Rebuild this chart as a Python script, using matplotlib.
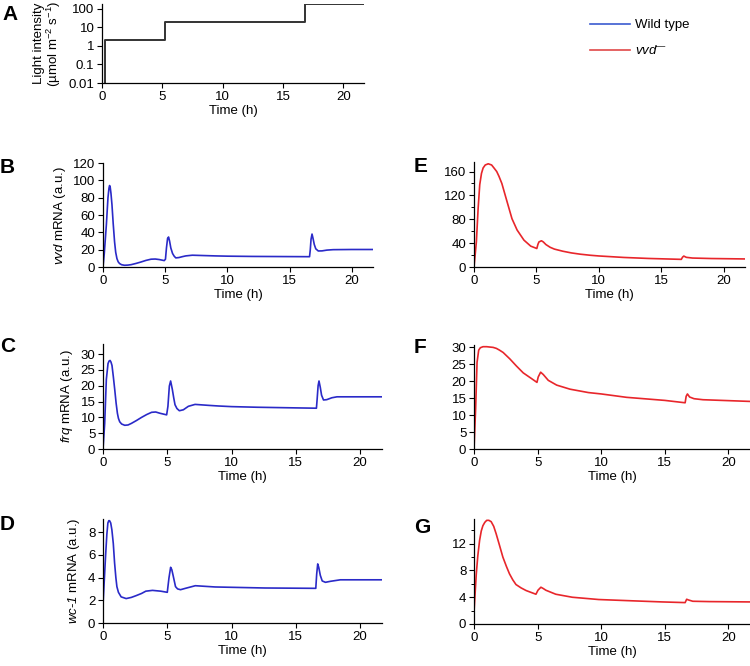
import matplotlib
matplotlib.use("Agg")
import matplotlib.pyplot as plt

plt.rcParams['font.family'] = ['Liberation Sans', 'DejaVu Sans']
plt.rcParams['mathtext.fontset'] = 'custom'
plt.rcParams['mathtext.rm'] = 'Liberation Sans'
plt.rcParams['mathtext.it'] = 'Liberation Sans:italic'
plt.rcParams['mathtext.sf'] = 'Liberation Sans:italic'
plt.rcParams['axes.linewidth'] = 0.9

BLUE = '#2a2ac8'
RED = '#e8262b'

# light protocol (A)
t_light = [0, 0.28, 5.2, 16.85, 21.7]
light = [0.001, 2, 20, 170, 170]

# wild type (B, C, D)
t_b = [0, 0.1, 0.27, 0.4, 0.48, 0.53, 0.58, 0.64, 0.72, 0.82, 0.93, 1.02, 1.12, 1.22, 1.33,
       1.5, 1.73, 2.0, 2.26, 2.65, 3.06, 3.45, 3.86, 4.2, 4.52, 4.92, 5.02, 5.1, 5.19, 5.27,
       5.35, 5.45, 5.59, 5.72, 5.85, 6.1, 6.4, 6.65, 7.18, 8.1, 9.04, 10, 12, 15, 16.6, 16.66,
       16.72, 16.8, 16.88, 16.98, 17.1, 17.3, 17.6, 18.0, 18.5, 20, 21.7]
vvd_wt = [0, 15, 48.6, 80, 91, 94, 92, 85, 72, 50, 29, 17, 9.7, 6, 4,
          2.6, 2, 2.2, 2.7, 4.1, 5.8, 7.6, 9, 9.2, 8.6, 7.4, 9, 22, 33, 34.6,
          30, 22, 15.6, 12.5, 10.5, 10.9, 12, 12.8, 13.6, 13.2, 12.8, 12.5, 12.2, 12.0, 11.9, 20,
          32, 38, 33, 26, 21, 18.5, 18.6, 19.5, 20, 20.2, 20.2]

t_c = [0, 0.13, 0.26, 0.39, 0.47, 0.55, 0.62, 0.7, 0.8, 0.91, 1.02, 1.12, 1.2, 1.3, 1.45,
       1.69, 1.95, 2.21, 2.6, 3.0, 3.4, 3.78, 4.1, 4.43, 4.95, 5.05, 5.16, 5.26, 5.39, 5.5,
       5.6, 5.75, 5.94, 6.25, 6.64, 7.16, 8.2, 8.98, 10, 12, 15, 16.6, 16.66, 16.73, 16.8,
       16.9, 17.0, 17.15, 17.4, 17.8, 18.2, 20, 21.7]
frq_wt = [0, 8, 22, 27, 27.8, 28, 27.5, 26.4, 23, 18.9, 14.5, 11.3, 9.7, 8.6, 7.9,
          7.5, 7.6, 8.1, 9.0, 10, 10.9, 11.6, 11.7, 11.3, 10.8, 13.5, 19.9, 21.5, 18.9, 16.2,
          14, 12.8, 12.1, 12.4, 13.5, 14.1, 13.8, 13.6, 13.4, 13.2, 13.0, 12.9, 16, 20, 21.5,
          19.5, 17, 15.5, 15.6, 16.2, 16.5, 16.5, 16.5]

t_d = [0, 0.2, 0.3, 0.38, 0.45, 0.51, 0.6, 0.69, 0.8, 0.9, 1.0, 1.08, 1.2, 1.41, 1.8, 2.2,
       2.56, 3.0, 3.33, 3.85, 4.49, 5.0, 5.13, 5.26, 5.35, 5.44, 5.64, 5.8, 6.03, 6.41, 7.18,
       8.72, 10, 12.6, 16.55, 16.62, 16.7, 16.78, 16.9, 17.05, 17.3, 17.7, 18.46, 21.7]
wc1_wt = [1.6, 5.9, 7.8, 8.8, 9.0, 9.0, 8.8, 8.2, 7.0, 5.3, 4.0, 3.2, 2.7, 2.3, 2.15, 2.25,
          2.4, 2.6, 2.8, 2.87, 2.8, 2.7, 3.96, 4.9, 4.7, 4.25, 3.2, 3.0, 2.93, 3.05, 3.28,
          3.17, 3.14, 3.08, 3.05, 4.3, 5.2, 4.9, 4.2, 3.7, 3.58, 3.67, 3.8, 3.8]

# vvd mutant (E, F, G)
t_e = [0, 0.19, 0.33, 0.46, 0.6, 0.73, 0.9, 1.14, 1.41, 1.6, 1.82, 2.0, 2.23, 2.64, 3.04,
       3.45, 4.0, 4.54, 5.03, 5.12, 5.2, 5.4, 5.55, 5.76, 6.1, 6.44, 7.1, 7.8, 8.5, 9.3, 10,
       12, 14, 16.6, 16.7, 16.8, 17.0, 17.5, 19, 21.7]
vvd_mut = [0, 42, 98, 138, 157, 166, 171, 173, 171, 166, 160, 152, 140, 110, 81,
           62, 45, 35, 31, 38, 42, 44, 42, 37.6, 33, 30, 26.5, 23.6, 21.5, 19.7, 18.5,
           16, 14.3, 12.8, 16.5, 18.3, 16.2, 15, 14.2, 13.5]

t_f = [0, 0.13, 0.24, 0.37, 0.5, 0.71, 1.0, 1.24, 1.5, 1.76, 2.0, 2.29, 2.82, 3.34, 3.87,
       4.53, 4.95, 5.05, 5.24, 5.45, 5.84, 6.5, 7.55, 9.0, 10, 12, 15, 16.6, 16.68, 16.78,
       16.95, 17.3, 18, 21.7]
frq_mut = [0, 12, 25.5, 29.1, 29.8, 30.1, 30.1, 30, 29.9, 29.6, 29.1, 28.4, 26.5, 24.4, 22.4,
           20.7, 19.6, 21.2, 22.6, 21.9, 20.2, 18.8, 17.6, 16.6, 16.2, 15.2, 14.3, 13.6, 15.5,
           16.2, 15.3, 14.8, 14.5, 14.0]

t_g = [0, 0.18, 0.3, 0.44, 0.57, 0.7, 0.85, 1.0, 1.17, 1.35, 1.55, 1.74, 2.0, 2.27, 2.55,
       2.79, 3.05, 3.3, 3.7, 4.1, 4.87, 5.03, 5.26, 5.45, 5.65, 6.43, 7.73, 9.8, 12.4, 14.8,
       16.6, 16.72, 16.85, 17.2, 18.5, 21.7]
wc1_mut = [1.8, 7.5, 10.2, 12.5, 13.9, 14.7, 15.2, 15.5, 15.5, 15.3, 14.6, 13.5, 11.8, 10,
           8.6, 7.5, 6.6, 5.9, 5.4, 5.0, 4.45, 5.05, 5.5, 5.3, 5.05, 4.45, 4.0, 3.66, 3.47,
           3.3, 3.2, 3.7, 3.6, 3.4, 3.35, 3.3]

W, H = 750, 666
fig = plt.figure(figsize=(W / 100, H / 100), dpi=100)


def px_axes(x0, x1, y0, y1):
    # pixel box (left, right, top, bottom) -> figure axes
    return fig.add_axes([x0 / W, 1 - y1 / H, (x1 - x0) / W, (y1 - y0) / H])


def style(ax, xmax=21.7):
    for s in ('top', 'right'):
        ax.spines[s].set_visible(False)
    ax.tick_params(direction='out', length=3.5, width=0.8, labelsize=9.5, pad=2)
    ax.tick_params(which='minor', direction='out', length=2, width=0.7)
    ax.set_xlim(0, xmax)
    ax.set_xticks([0, 5, 10, 15, 20])
    ax.set_xlabel('Time (h)', fontsize=9.5, labelpad=2)


# A
axA = px_axes(102, 364, 4, 83)
axA.step(t_light, light, where='post', color='#333333', lw=1.4)
axA.set_yscale('log')
axA.set_ylim(0.01, 180)
axA.set_yticks([0.01, 0.1, 1, 10, 100])
axA.set_yticklabels(['0.01', '0.1', '1', '10', '100'])
axA.minorticks_off()
style(axA)
axA.set_ylabel('Light intensity\n(µmol m$^{-2}$ s$^{-1}$)', fontsize=9.5, linespacing=1.0)

# B
axB = px_axes(103, 373, 163, 267)
axB.plot(t_b, vvd_wt, color=BLUE, lw=1.2)
axB.set_ylim(0, 120)
axB.set_yticks(range(0, 121, 20))
style(axB)
axB.set_ylabel(r'$\mathsf{vvd}$ mRNA (a.u.)', fontsize=9.5)

# C
axC = px_axes(103, 382, 344, 449)
axC.plot(t_c, frq_wt, color=BLUE, lw=1.2)
axC.set_ylim(0, 33.2)
axC.set_yticks(range(0, 31, 5))
style(axC)
axC.set_ylabel(r'$\mathsf{frq}$ mRNA (a.u.)', fontsize=9.5)

# D
axD = px_axes(103, 382, 519, 623)
axD.plot(t_d, wc1_wt, color=BLUE, lw=1.2)
axD.set_ylim(0, 9.15)
axD.set_yticks(range(0, 9, 2))
style(axD)
axD.set_ylabel(r'$\mathsf{wc}$$\mathsf{\text{-}1}$ mRNA (a.u.)', fontsize=9.5)

# E
axE = px_axes(474, 745, 162, 267)
axE.plot(t_e, vvd_mut, color=RED, lw=1.2)
axE.set_ylim(0, 176)
axE.set_yticks(range(0, 161, 40))
axE.set_yticks(range(20, 175, 40), minor=True)
style(axE)

# F
axF = px_axes(474, 750, 345, 449)
axF.plot(t_f, frq_mut, color=RED, lw=1.2)
axF.set_ylim(0, 30.6)
axF.set_yticks(range(0, 31, 5))
style(axF)

# G
axG = px_axes(474, 750, 519, 624)
axG.plot(t_g, wc1_mut, color=RED, lw=1.2)
axG.set_ylim(0, 15.7)
axG.set_yticks(range(0, 13, 4))
axG.set_yticks(range(2, 16, 4), minor=True)
style(axG)

# panel letters
letters = [('A', 2, 5), ('B', 0, 158), ('C', 0, 337), ('D', 0, 515),
           ('E', 414, 157), ('F', 414, 338), ('G', 414, 518)]
for s, x, y in letters:
    fig.text(x / W, 1 - y / H, s, fontsize=15, fontweight='bold', ha='left', va='top')

# legend
hw, = axB.plot([], [], color='#3b5bd0', lw=1.2, label='Wild type')
hm, = axE.plot([], [], color='#e04848', lw=1.2, label=r'$\mathsf{vvd}^{\mathrm{—}}$')
fig.legend(handles=[hw, hm], loc='upper left', bbox_to_anchor=(590 / W, 1 - 19 / H),
           frameon=False, fontsize=9.5, handlelength=3.0, handletextpad=0.4,
           labelspacing=1.0, borderpad=0, borderaxespad=0)

plt.savefig('out.png', dpi=100)
